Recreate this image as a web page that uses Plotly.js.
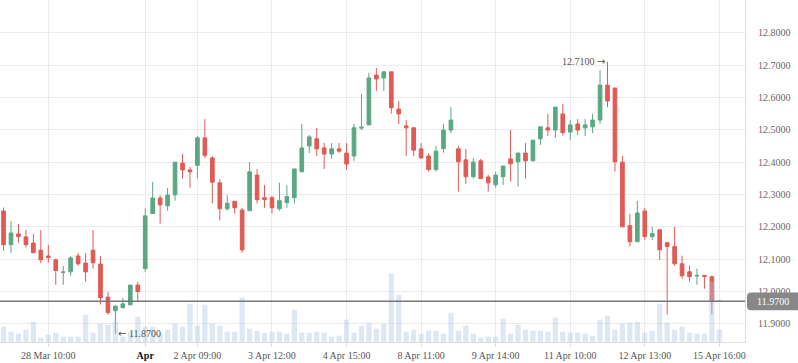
<!DOCTYPE html>
<html>
<head>
<meta charset="utf-8">
<script src="https://cdn.plot.ly/plotly-3.0.1.min.js"></script>
<style>
html,body{margin:0;padding:0;background:#fff;}
#chart{width:798px;height:363px;}
</style>
</head>
<body>
<div id="chart"></div>
<script>
// Hourly bars (index = bar number)
const openP = [
12.249,12.145,12.178,12.169,12.150,12.128,12.110,12.098,12.060,12.061,
12.110,12.088,12.128,12.085,11.983,11.941,11.950,11.959,12.020,12.071,
12.241,12.289,12.265,12.299,12.397,12.376,12.390,12.475,12.413,12.336,
12.256,12.279,12.252,12.250,12.360,12.290,12.290,12.256,12.275,12.290,
12.370,12.450,12.472,12.444,12.425,12.441,12.428,12.419,12.505,12.515,
12.669,12.660,12.679,12.564,12.512,12.506,12.441,12.419,12.377,12.442,
12.499,12.441,12.407,12.355,12.404,12.354,12.330,12.355,12.410,12.401,
12.428,12.404,12.472,12.506,12.499,12.549,12.493,12.518,12.506,12.509,
12.530,12.638,12.629,12.400,12.204,12.154,12.249,12.170,12.191,12.151,
12.139,12.086,12.061,12.048,12.050,12.046,11.970];
const highP = [
12.260,12.218,12.209,12.190,12.178,12.190,12.144,12.102,12.079,12.110,
12.119,12.119,12.190,12.109,11.999,11.958,11.980,12.020,12.030,12.257,
12.339,12.298,12.320,12.400,12.425,12.385,12.481,12.533,12.419,12.347,
12.298,12.279,12.258,12.400,12.379,12.329,12.296,12.336,12.329,12.379,
12.518,12.484,12.506,12.459,12.459,12.459,12.459,12.518,12.611,12.676,
12.691,12.679,12.679,12.589,12.530,12.509,12.459,12.428,12.450,12.518,
12.570,12.450,12.441,12.413,12.410,12.361,12.370,12.388,12.499,12.428,
12.459,12.468,12.509,12.549,12.570,12.580,12.530,12.533,12.533,12.549,
12.685,12.710,12.629,12.419,12.240,12.280,12.258,12.200,12.191,12.154,
12.200,12.111,12.080,12.071,12.050,12.049,11.970];
const lowP = [
12.126,12.120,12.151,12.136,12.120,12.088,12.089,12.021,12.021,12.049,
12.080,12.031,12.071,11.960,11.929,11.870,11.950,11.959,11.971,12.061,
12.241,12.210,12.250,12.281,12.349,12.321,12.350,12.412,12.273,12.220,
12.250,12.241,12.120,12.250,12.272,12.259,12.241,12.250,12.259,12.272,
12.370,12.428,12.419,12.379,12.410,12.428,12.376,12.404,12.499,12.515,
12.620,12.620,12.550,12.518,12.419,12.419,12.410,12.371,12.371,12.429,
12.490,12.309,12.333,12.349,12.349,12.309,12.321,12.330,12.340,12.324,
12.349,12.404,12.453,12.481,12.475,12.482,12.468,12.484,12.481,12.490,
12.518,12.570,12.371,12.200,12.139,12.154,12.160,12.160,12.098,11.929,
12.080,12.040,12.031,12.021,12.009,11.929,11.970];
const closeP = [
12.145,12.181,12.170,12.145,12.120,12.098,12.105,12.065,12.060,12.104,
12.086,12.061,12.089,11.981,11.935,11.955,11.962,12.020,12.000,12.234,
12.289,12.268,12.298,12.400,12.376,12.370,12.475,12.421,12.338,12.256,
12.273,12.259,12.129,12.370,12.284,12.284,12.259,12.281,12.293,12.379,
12.444,12.478,12.441,12.425,12.441,12.434,12.394,12.506,12.508,12.660,
12.657,12.679,12.568,12.549,12.506,12.437,12.413,12.377,12.434,12.499,
12.530,12.401,12.355,12.400,12.349,12.336,12.360,12.388,12.395,12.428,
12.404,12.468,12.509,12.499,12.570,12.491,12.515,12.499,12.515,12.530,
12.638,12.589,12.401,12.200,12.154,12.243,12.170,12.179,12.129,12.139,
12.086,12.049,12.046,12.050,12.047,11.970,11.970];
const volume = [
153,103,83,123,203,43,73,93,53,53,
53,273,93,183,173,203,53,103,253,153,
153,83,123,183,153,383,163,373,183,163,
103,103,443,133,113,93,103,103,83,323,
93,93,103,93,53,63,223,93,163,193,
133,183,683,473,103,123,83,113,113,83,
293,113,163,83,43,53,53,233,83,173,
123,113,113,103,243,103,93,93,83,63,
223,263,123,183,193,203,93,113,383,193,
123,153,93,83,83,603,123];
const tickIndex = [6,19,26,36,46,56,66,76,86,96];
const tickLabels = ['28 Mar 10:00','Apr','2 Apr 09:00','3 Apr 12:00','4 Apr 15:00',
  '8 Apr 11:00','9 Apr 14:00','11 Apr 10:00','12 Apr 13:00','15 Apr 16:00'];

const GREEN = '#5aa883', RED = '#e15a54', GREY = '#888888';
const FONT = 'Liberation Serif, Times New Roman, serif';
const ARROW = s => '<span style="font-family:DejaVu Sans">' + s + '</span>';

const idx = openP.map((_, i) => i);
const pick = (arr, keep) => idx.filter(keep).map(i => arr[i]);
const isFlat = i => openP[i] === closeP[i];
const isNorm = i => !isFlat(i);

const candles = {
  type: 'candlestick',
  x: pick(idx, isNorm), open: pick(openP, isNorm), high: pick(highP, isNorm),
  low: pick(lowP, isNorm), close: pick(closeP, isNorm),
  increasing: {line: {color: GREEN, width: 1}, fillcolor: GREEN},
  decreasing: {line: {color: RED, width: 1}, fillcolor: RED},
  whiskerwidth: 0, hoverinfo: 'skip', showlegend: false
};
const flats = {
  type: 'candlestick',
  x: pick(idx, isFlat), open: pick(openP, isFlat), high: pick(highP, isFlat),
  low: pick(lowP, isFlat), close: pick(closeP, isFlat),
  increasing: {line: {color: GREY, width: 1}, fillcolor: GREY},
  decreasing: {line: {color: GREY, width: 1}, fillcolor: GREY},
  whiskerwidth: 0, hoverinfo: 'skip', showlegend: false
};
const vols = {
  type: 'bar', x: idx, y: volume, yaxis: 'y2', width: 0.7,
  marker: {color: 'rgba(175,200,228,0.42)', line: {width: 0}},
  hoverinfo: 'skip', showlegend: false
};

const last = closeP[closeP.length - 1];
let hiI = 0, loI = 0;
highP.forEach((v, i) => { if (v > highP[hiI]) hiI = i; });
lowP.forEach((v, i) => { if (v < lowP[loI]) loI = i; });

const x0 = 1.0027, x1 = 1.2, rx = 0.0054, ry = 0.0124;
const yT = last + 0.0275, yB = last - 0.0275;
const boxPath = `M ${x0+rx},${yT} L ${x1},${yT} L ${x1},${yB} L ${x0+rx},${yB} ` +
  `Q ${x0},${yB} ${x0},${yB+ry} L ${x0},${yT-ry} Q ${x0},${yT} ${x0+rx},${yT} Z`;

const layout = {
  width: 798, height: 363,
  margin: {l: 0, r: 53, t: 0, b: 21, pad: 0},
  paper_bgcolor: '#ffffff', plot_bgcolor: '#ffffff',
  showlegend: false, hovermode: false, dragmode: false,
  font: {family: FONT, size: 10, color: '#555'},
  xaxis: {
    range: [-0.4775, 99.44], tickmode: 'array', tickvals: tickIndex,
    ticktext: tickLabels.map(t => t === 'Apr' ? '<span style="color:#111"><b>Apr</b></span>' : t),
    showgrid: true, gridcolor: '#ebebeb', gridwidth: 1, zeroline: false,
    showline: true, linecolor: '#dddddd', linewidth: 1,
    ticks: 'outside', ticklen: 4, tickcolor: '#dddddd',
    tickfont: {family: FONT, size: 10, color: '#555'},
    rangeslider: {visible: false}, fixedrange: true
  },
  yaxis: {
    side: 'right', range: [11.8442, 12.901], tick0: 11.9, dtick: 0.1, tickformat: '.4f',
    showgrid: true, gridcolor: '#ebebeb', gridwidth: 1, zeroline: false,
    showline: true, linecolor: '#dddddd', linewidth: 1, ticks: '',
    ticklabelstandoff: 10,
    tickfont: {family: FONT, size: 10, color: '#666'}, fixedrange: true
  },
  yaxis2: {overlaying: 'y', range: [0, 3420], visible: false, fixedrange: true},
  bargap: 0.3,
  shapes: [
    {type: 'line', xref: 'paper', x0: 0, x1: 1, yref: 'y', y0: last, y1: last,
     line: {color: '#777777', width: 1.5}, layer: 'above'},
    {type: 'path', xref: 'paper', yref: 'y', path: boxPath,
     fillcolor: '#888888', line: {width: 0}, layer: 'above'}
  ],
  annotations: [
    {xref: 'paper', x: 1, xanchor: 'left', xshift: 10, yref: 'y', y: last, yanchor: 'middle',
     text: last.toFixed(4), showarrow: false, font: {family: FONT, size: 10, color: '#ffffff'}},
    {xref: 'x', x: hiI, xanchor: 'right', xshift: -1, yref: 'y', y: highP[hiI], yanchor: 'middle',
     text: highP[hiI].toFixed(4) + ' ' + ARROW('→'), showarrow: false, font: {family: FONT, size: 10, color: '#555'}},
    {xref: 'x', x: loI, xanchor: 'left', xshift: 1, yref: 'y', y: lowP[loI], yanchor: 'middle',
     text: ARROW('←') + ' ' + lowP[loI].toFixed(4), showarrow: false, font: {family: FONT, size: 10, color: '#555'}}
  ]
};

Plotly.newPlot('chart', [candles, flats, vols], layout, {staticPlot: true, displayModeBar: false});
</script>
</body>
</html>
